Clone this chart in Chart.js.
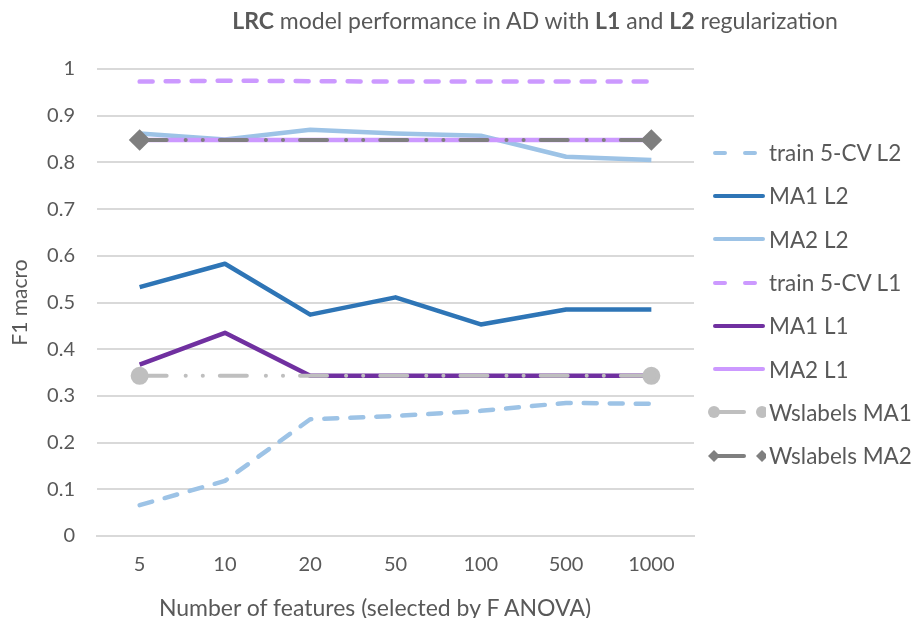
<!DOCTYPE html>
<html>
<head>
<meta charset="utf-8">
<script src="https://cdn.jsdelivr.net/npm/chart.js@4.4.1/dist/chart.umd.min.js"></script>
<style>
  html, body { margin: 0; padding: 0; background: #fff; }
  #wrap { position: relative; width: 920px; height: 618px; font-family: Lato, 'Open Sans', sans-serif; color: #595959; }
  #title { position: absolute; left: 0; width: 1070px; top: 6px; text-align: center; font-size: 23px; white-space: nowrap; }
  #xtitle { position: absolute; left: 0; width: 750px; top: 593px; text-align: center; font-size: 23px; white-space: nowrap; }
  #legend { position: absolute; left: 706px; top: 131px; }
  .item { height: 43.3px; display: flex; align-items: center; font-size: 22.5px; white-space: nowrap; }
  .item svg { margin-right: 3px; }
</style>
</head>
<body>
<div id="wrap">
  <canvas id="chart" width="920" height="618"></canvas>
  <div id="title"><b>LRC</b> model performance in AD with <b>L1</b> and <b>L2</b> regularization</div>
  <div id="xtitle">Number of features (selected by F ANOVA)</div>
  <div id="legend"></div>
</div>
<script>
(function () {
    'use strict';

    // x categories: number of selected features
    var categories = ['5', '10', '20', '50', '100', '500', '1000'];

    // F1 macro values
    var trainCvL2 = [0.066, 0.118, 0.250, 0.257, 0.268, 0.285, 0.283];
    var ma1L2 = [0.533, 0.583, 0.474, 0.511, 0.453, 0.485, 0.485];
    var ma2L2 = [0.862, 0.849, 0.870, 0.862, 0.857, 0.812, 0.805];
    var trainCvL1 = [0.973, 0.975, 0.974, 0.973, 0.973, 0.973, 0.973];
    var ma1L1 = [0.367, 0.435, 0.343, 0.343, 0.343, 0.343, 0.343];
    var ma2L1 = [0.848, 0.848, 0.848, 0.848, 0.848, 0.848, 0.848];
    var wslabelsMa1 = [0.343, 0.343, 0.343, 0.343, 0.343, 0.343, 0.343];
    var wslabelsMa2 = [0.848, 0.848, 0.848, 0.848, 0.848, 0.848, 0.848];

    var FONT = "Lato, 'Open Sans', sans-serif";
    var TEXT = '#595959';
    var GRID = '#d9d9d9';

    var dashShort = [13, 13];
    var dashLongDotDot = [27, 19, 0.1, 17, 0.1, 17];
    var endsOnly = [7, 0, 0, 0, 0, 0, 7];

    function series(label, data, color, dash, extra) {
        var ds = {
            label: label,
            data: data,
            borderColor: color,
            backgroundColor: color,
            borderWidth: 4.5,
            borderDash: dash || [],
            borderCapStyle: dash ? 'round' : 'butt',
            borderJoinStyle: 'round',
            pointRadius: 0,
            pointHoverRadius: 0,
            tension: 0,
            fill: false,
        };
        if (extra) Object.keys(extra).forEach(function (k) { ds[k] = extra[k]; });
        return ds;
    }

    var datasets = [
        series('train 5-CV L2', trainCvL2, '#9dc3e6', dashShort),
        series('MA1 L2', ma1L2, '#2e75b6'),
        series('MA2 L2', ma2L2, '#9dc3e6'),
        series('train 5-CV L1', trainCvL1, '#cc99ff', dashShort),
        series('MA1 L1', ma1L1, '#7030a0'),
        series('MA2 L1', ma2L1, '#cc99ff'),
        series('Wslabels MA1', wslabelsMa1, '#bfbfbf', dashLongDotDot, {
            pointRadius: endsOnly, pointStyle: 'circle', borderWidth: 4,
        }),
        series('Wslabels MA2', wslabelsMa2, '#7f7f7f', dashLongDotDot, {
            pointRadius: endsOnly.map(function (r) { return r ? 8 : 0; }), pointStyle: 'rectRot', borderWidth: 4,
        }),
    ];
    // Excel paints later series on top; Chart.js paints lower 'order' on top
    datasets.forEach(function (ds, i) { ds.order = datasets.length - i; });

    var chart = new Chart(document.getElementById('chart'), {
        type: 'line',
        data: { labels: categories, datasets: datasets },
        options: {
            responsive: false,
            animation: false,
            events: [],
            layout: { padding: { top: 69, right: 226, bottom: 0, left: 0 } },
            plugins: {
                legend: { display: false },
                tooltip: { enabled: false },
            },
            scales: {
                x: {
                    offset: true,
                    grid: { display: false, drawTicks: false },
                    border: { color: GRID, width: 2 },
                    ticks: { color: TEXT, font: { family: FONT, size: 20 }, padding: 17 },
                    afterFit: function (scale) { scale.height = 82; },
                },
                y: {
                    min: 0,
                    max: 1,
                    grid: { color: GRID, lineWidth: 2, drawTicks: false },
                    border: { display: false },
                    ticks: {
                        stepSize: 0.1,
                        color: TEXT,
                        padding: 22,
                        font: { family: FONT, size: 20 },
                        callback: function (v) { return String(Math.round(v * 10) / 10); },
                    },
                    title: {
                        display: true,
                        text: 'F1 macro',
                        color: TEXT,
                        font: { family: FONT, size: 21 },
                        padding: { top: 8, bottom: 0 },
                    },
                    afterFit: function (scale) { scale.width = 97; },
                },
            },
        },
    });

    /* ===== HTML legend (Excel style line samples) ===== */

    function sample(ds) {
        var ns = 'http://www.w3.org/2000/svg';
        var svg = document.createElementNS(ns, 'svg');
        svg.setAttribute('width', '60');
        svg.setAttribute('height', '20');
        var hasMarker = !!ds.pointRadius[0];
        var line = document.createElementNS(ns, 'line');
        line.setAttribute('x1', hasMarker ? 8 : 9);
        line.setAttribute('x2', hasMarker ? 54 : 57);
        line.setAttribute('y1', 10);
        line.setAttribute('y2', 10);
        line.setAttribute('stroke', ds.borderColor);
        line.setAttribute('stroke-width', 4);
        line.setAttribute('stroke-linecap', 'round');
        if (ds.borderDash.length && !hasMarker) line.setAttribute('stroke-dasharray', '10 20');
        if (hasMarker) line.setAttribute('stroke-dasharray', '30 20');
        svg.appendChild(line);
        if (hasMarker) {
            [8, 56].forEach(function (cx) {
                var m;
                if (ds.pointStyle === 'circle') {
                    m = document.createElementNS(ns, 'circle');
                    m.setAttribute('cx', cx);
                    m.setAttribute('cy', 10);
                    m.setAttribute('r', 6);
                } else {
                    m = document.createElementNS(ns, 'polygon');
                    m.setAttribute('points', (cx - 6) + ',10 ' + cx + ',4 ' + (cx + 6) + ',10 ' + cx + ',16');
                }
                m.setAttribute('fill', ds.borderColor);
                svg.appendChild(m);
            });
        }
        return svg;
    }

    var legend = document.getElementById('legend');
    chart.data.datasets.forEach(function (ds) {
        var row = document.createElement('div');
        row.className = 'item';
        row.appendChild(sample(ds));
        var span = document.createElement('span');
        span.textContent = ds.label;
        row.appendChild(span);
        legend.appendChild(row);
    });
})();
</script>
</body>
</html>
